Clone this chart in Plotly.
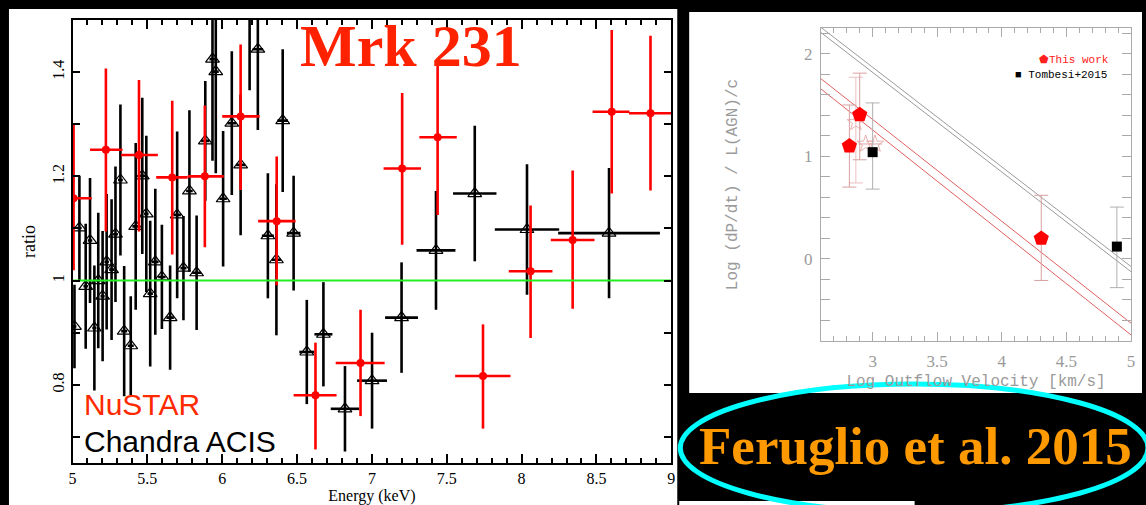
import plotly.graph_objects as go

W, H = 1146, 505

# ---------------- Left panel data (Mrk 231 ratio spectrum) ----------------
nustar_e = [5.007, 5.223, 5.444, 5.666, 5.884, 6.123, 6.364, 6.623, 6.924, 7.202, 7.439, 7.742, 8.06, 8.341, 8.602, 8.861]
nustar_e_lo = [4.89, 5.117, 5.323, 5.559, 5.77, 6.0, 6.24, 6.477, 6.758, 7.078, 7.317, 7.556, 7.914, 8.195, 8.474, 8.717]
nustar_e_hi = [5.128, 5.334, 5.570, 5.769, 6.01, 6.25, 6.49, 6.764, 7.085, 7.328, 7.567, 7.926, 8.206, 8.487, 8.721, 9.0]
nustar_ratio = [1.158, 1.251, 1.241, 1.198, 1.200, 1.315, 1.114, 0.780, 0.842, 1.215, 1.275, 0.817, 1.018, 1.078, 1.324, 1.321]
nustar_ratio_lo = [1.02, 1.094, 1.094, 1.050, 1.064, 1.174, 0.991, 0.676, 0.740, 1.069, 1.126, 0.716, 0.890, 0.946, 1.167, 1.173]
nustar_ratio_hi = [1.30, 1.407, 1.385, 1.345, 1.336, 1.453, 1.238, 0.881, 0.944, 1.360, 1.425, 0.916, 1.144, 1.211, 1.481, 1.470]

chandra_e = [5.013, 5.046, 5.088, 5.117, 5.146, 5.172, 5.201, 5.228, 5.261, 5.287,
             5.320, 5.345, 5.389, 5.422, 5.466, 5.493, 5.519, 5.553, 5.597, 5.652,
             5.699, 5.741, 5.781, 5.829, 5.887, 5.935, 5.957, 6.006, 6.064, 6.123,
             6.183, 6.238, 6.305, 6.362, 6.404, 6.477, 6.565, 6.676, 6.820, 7.001,
             7.198, 7.428, 7.687, 8.036, 8.584]
chandra_de = [0.013, 0.015, 0.015, 0.015, 0.014, 0.013, 0.014, 0.015, 0.016, 0.016,
              0.016, 0.02, 0.02, 0.022, 0.022, 0.015, 0.018, 0.022, 0.025, 0.025,
              0.025, 0.02, 0.022, 0.03, 0.028, 0.02, 0.02, 0.025, 0.03, 0.03,
              0.03, 0.035, 0.04, 0.03, 0.035, 0.045, 0.05, 0.06, 0.095, 0.1,
              0.11, 0.13, 0.145, 0.215, 0.34]
chandra_ratio = [0.912, 1.101, 0.989, 1.077, 0.909, 1.000, 0.970, 1.036, 1.021, 1.089,
                 1.193, 0.903, 0.875, 1.104, 1.201, 1.128, 0.975, 1.036, 1.007, 0.929,
                 1.126, 1.024, 1.172, 1.015, 1.268, 1.425, 1.401, 1.157, 1.302, 1.222,
                 1.53, 1.444, 1.086, 1.040, 1.307, 1.091, 0.863, 0.897, 0.754, 0.808,
                 0.929, 1.058, 1.167, 1.098, 1.091]
chandra_err = [0.08, 0.10, 0.12, 0.12, 0.12, 0.13, 0.125, 0.13, 0.135, 0.13,
               0.145, 0.125, 0.095, 0.16, 0.15, 0.15, 0.14, 0.14, 0.10, 0.10,
               0.16, 0.10, 0.155, 0.11, 0.115, 0.195, 0.195, 0.13, 0.138, 0.135,
               0.165, 0.155, 0.12, 0.145, 0.137, 0.11, 0.10, 0.10, 0.082, 0.092,
               0.106, 0.114, 0.13, 0.125, 0.125]

model_e = [5.0, 9.0]
model_ratio = [1.0, 1.0]

# ---------------- Right panel data (Feruglio et al. 2015) ----------------
this_work_v = [2.82, 2.90, 4.305]
this_work_p = [1.10, 1.405, 0.20]
this_work_p_hi = [1.50, 1.81, 0.62]
this_work_p_lo = [0.70, 0.966, -0.21]

star_v = [2.87, 2.946, 3.018]
star_p = [1.33, 1.12, 1.12]
star_p_hi = [1.77, 1.12, 1.12]
star_p_lo = [0.74, 1.12, 1.12]

tombesi_v = [3.0, 4.89]
tombesi_p = [1.04, 0.12]
tombesi_p_hi = [1.52, 0.505]
tombesi_p_lo = [0.68, -0.28]

rel_v = [2.6, 5.0]
gray_rel_a = [2.256, -0.075]
gray_rel_b = [2.206, -0.125]
red_rel_a = [1.756, -0.627]
red_rel_b = [1.656, -0.741]


def px(x):
    return x / W


def py(y):
    return 1 - y / H


def diff(a, b):
    return [x - y for x, y in zip(a, b)]


fig = go.Figure()

# Chandra
fig.add_trace(go.Scatter(
    x=chandra_e, y=chandra_ratio, mode="markers", xaxis="x", yaxis="y",
    marker=dict(symbol="triangle-up-open", size=12, color="black", line=dict(width=1.2, color="black")),
    error_x=dict(type="data", array=chandra_de, width=0, thickness=2.6, color="black"),
    error_y=dict(type="data", array=chandra_err, width=0, thickness=2.6, color="black"),
    showlegend=False, name="Chandra ACIS"))

# NuSTAR
fig.add_trace(go.Scatter(
    x=nustar_e, y=nustar_ratio, mode="markers", xaxis="x", yaxis="y",
    marker=dict(symbol="circle", size=8, color="#ff0000"),
    error_x=dict(type="data", symmetric=False, array=diff(nustar_e_hi, nustar_e),
                 arrayminus=diff(nustar_e, nustar_e_lo), width=0, thickness=2.6, color="#ff0000"),
    error_y=dict(type="data", symmetric=False, array=diff(nustar_ratio_hi, nustar_ratio),
                 arrayminus=diff(nustar_ratio, nustar_ratio_lo), width=0, thickness=2.6, color="#ff0000"),
    showlegend=False, name="NuSTAR"))

# model line
fig.add_trace(go.Scatter(x=model_e, y=model_ratio, mode="lines", xaxis="x", yaxis="y",
                         line=dict(color="#22ee22", width=2), showlegend=False, hoverinfo="skip"))

# Right panel lines
for yy, col in [(gray_rel_a, "#9a9a9a"), (gray_rel_b, "#9a9a9a"), (red_rel_a, "#e06060"), (red_rel_b, "#e06060")]:
    fig.add_trace(go.Scatter(x=rel_v, y=yy, mode="lines", xaxis="x2", yaxis="y2",
                             line=dict(color=col, width=1), showlegend=False, hoverinfo="skip"))

fig.add_trace(go.Scatter(
    x=star_v, y=star_p, mode="markers", xaxis="x2", yaxis="y2",
    marker=dict(symbol="star-open", size=13, color="#eab0b0", line=dict(width=1)),
    error_y=dict(type="data", symmetric=False, array=diff(star_p_hi, star_p),
                 arrayminus=diff(star_p, star_p_lo), width=7, thickness=1, color="#ecc0c0"),
    showlegend=False))

fig.add_trace(go.Scatter(
    x=tombesi_v, y=tombesi_p, mode="markers", xaxis="x2", yaxis="y2",
    marker=dict(symbol="square", size=10, color="black"),
    error_y=dict(type="data", symmetric=False, array=diff(tombesi_p_hi, tombesi_p),
                 arrayminus=diff(tombesi_p, tombesi_p_lo), width=7, thickness=1, color="#b0b0b0"),
    showlegend=False, name="Tombesi+2015"))

fig.add_trace(go.Scatter(
    x=this_work_v, y=this_work_p, mode="markers", xaxis="x2", yaxis="y2",
    marker=dict(symbol="pentagon", size=16, color="#ff0000"),
    error_y=dict(type="data", symmetric=False, array=diff(this_work_p_hi, this_work_p),
                 arrayminus=diff(this_work_p, this_work_p_lo), width=7, thickness=1, color="#d8a0a0"),
    showlegend=False, name="This work"))

serif = "Liberation Serif"
mono = "Liberation Mono"
gray = "#9a9a9a"

left_axis = dict(showline=True, linecolor="black", linewidth=2, mirror="ticks", ticks="inside",
                 tickcolor="black", tickwidth=1.5, showgrid=False, zeroline=False)
right_axis = dict(showline=True, linecolor="#aaaaaa", linewidth=1, mirror="ticks", ticks="inside",
                  tickcolor="#aaaaaa", tickwidth=1, showgrid=False, zeroline=False)

fig.update_layout(
    width=W, height=H, margin=dict(l=0, r=0, t=0, b=0),
    paper_bgcolor="black", plot_bgcolor="white",
    xaxis=dict(domain=[px(69), px(672)], anchor="y", range=[5, 9], tick0=5, dtick=0.5, ticklen=9,
               minor=dict(dtick=0.1, ticklen=5, ticks="inside", tickcolor="black", tickwidth=1.5),
               tickfont=dict(family=serif, size=16, color="black"),
               title=dict(text="Energy (keV)", font=dict(family=serif, size=16, color="black"), standoff=4),
               **left_axis),
    yaxis=dict(domain=[py(463), py(20)], anchor="x", range=[0.65, 1.5], tick0=0, dtick=0.2, ticklen=7,
               minor=dict(dtick=0.1, ticklen=7, ticks="inside", tickcolor="black", tickwidth=1.5),
               tickangle=-90,
               tickfont=dict(family=serif, size=16, color="black"),
               title=dict(text="ratio", font=dict(family=serif, size=18, color="black"), standoff=10),
               **left_axis),
    xaxis2=dict(domain=[px(822.7), px(1135)], anchor="y2", range=[2.6, 5], tick0=0, dtick=0.5, ticklen=9,
                minor=dict(dtick=0.1, ticklen=5, ticks="inside", tickcolor="#aaaaaa", tickwidth=1),
                tickfont=dict(family=serif, size=17, color=gray), ticklabelstandoff=5,
                title=dict(text="Log Outflow Velocity [km/s]", font=dict(family=mono, size=16, color=gray), standoff=4),
                **right_axis),
    yaxis2=dict(domain=[py(341), py(28)], anchor="x2", range=[-0.8, 2.25], tick0=0, dtick=1, ticklen=9,
                minor=dict(dtick=0.2, ticklen=9, ticks="inside", tickcolor="#aaaaaa", tickwidth=1),
                tickfont=dict(family=serif, size=17, color=gray), ticklabelstandoff=4,
                title=dict(text="Log (dP/dt) / L(AGN)/c", font=dict(family=mono, size=16, color=gray), standoff=62),
                **right_axis),
)

# white panels behind the two charts
fig.add_shape(type="rect", xref="paper", yref="paper", x0=px(5), x1=px(678), y0=py(505), y1=py(9),
              fillcolor="white", line=dict(width=0), layer="below")
fig.add_shape(type="rect", xref="paper", yref="paper", x0=px(690), x1=px(1146), y0=py(393), y1=py(12),
              fillcolor="white", line=dict(width=0), layer="below")
fig.add_shape(type="rect", xref="paper", yref="paper", x0=px(680), x1=px(917), y0=py(505), y1=py(501),
              fillcolor="white", line=dict(width=0), layer="below")
# cyan ellipse
fig.add_shape(type="circle", xref="paper", yref="paper", x0=px(681), x1=px(1152), y0=py(512), y1=py(384),
              line=dict(color="#00ffff", width=5), layer="above")

ann = [
    dict(text="<b>Mrk 231</b>", x=px(410), y=py(46), font=dict(family=serif, size=60, color="#ff2200")),
    dict(text="NuSTAR", x=px(79), y=py(404), xanchor="left", font=dict(family="Liberation Sans", size=30, color="#ff2a00")),
    dict(text="Chandra ACIS", x=px(79), y=py(441), xanchor="left", font=dict(family="Liberation Sans", size=30, color="black")),
    dict(text="<b>Feruglio et al. 2015</b>", x=px(918), y=py(446), font=dict(family=serif, size=53, color="#ff9900")),
    dict(text="\u2b1fThis work", x=px(1115), y=py(60), xanchor="right", font=dict(family=mono, size=11, color="#ff2020")),
    dict(text="\u25a0 Tombesi+2015", x=px(1113), y=py(75), xanchor="right", font=dict(family=mono, size=11, color="black")),
]
for a in ann:
    a.setdefault("xanchor", "center")
    fig.add_annotation(xref="paper", yref="paper", yanchor="middle", showarrow=False, **a)

fig.write_html("out.html")
